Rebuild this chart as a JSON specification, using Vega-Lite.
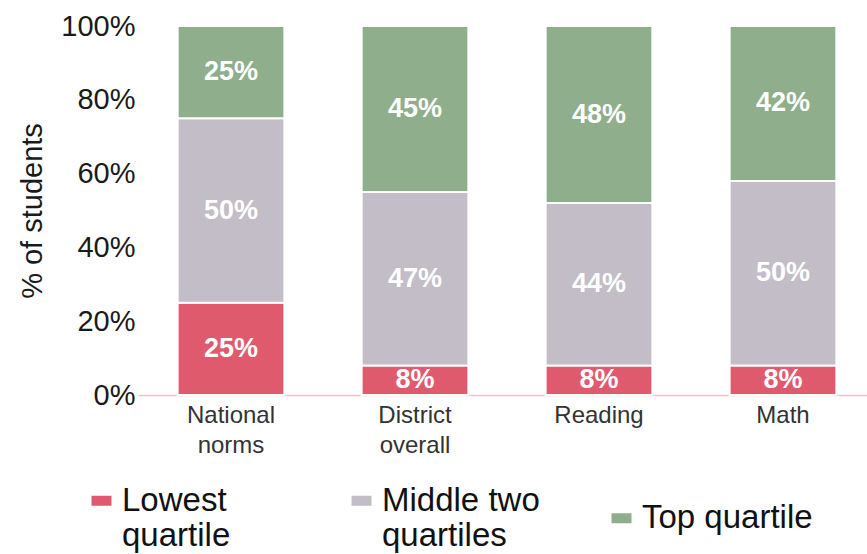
{
  "$schema": "https://vega.github.io/schema/vega-lite/v6.json",
  "autosize": "none",
  "padding": {"left": 138, "top": 26, "right": -9, "bottom": 159},
  "width": 738,
  "height": 369,
  "config": {
    "font": "Liberation Sans",
    "view": {"stroke": null}
  },
  "data": {
    "values": [
      {"cat": "National norms", "group": "Lowest quartile", "rank": 1, "pct": 25},
      {"cat": "National norms", "group": "Middle two quartiles", "rank": 2, "pct": 50},
      {"cat": "National norms", "group": "Top quartile", "rank": 3, "pct": 25},
      {"cat": "District overall", "group": "Lowest quartile", "rank": 1, "pct": 8},
      {"cat": "District overall", "group": "Middle two quartiles", "rank": 2, "pct": 47},
      {"cat": "District overall", "group": "Top quartile", "rank": 3, "pct": 45},
      {"cat": "Reading", "group": "Lowest quartile", "rank": 1, "pct": 8},
      {"cat": "Reading", "group": "Middle two quartiles", "rank": 2, "pct": 44},
      {"cat": "Reading", "group": "Top quartile", "rank": 3, "pct": 48},
      {"cat": "Math", "group": "Lowest quartile", "rank": 1, "pct": 8},
      {"cat": "Math", "group": "Middle two quartiles", "rank": 2, "pct": 50},
      {"cat": "Math", "group": "Top quartile", "rank": 3, "pct": 42}
    ]
  },
  "transform": [
    {"stack": "pct", "groupby": ["cat"], "sort": [{"field": "rank", "order": "ascending"}], "as": ["y0", "y1"]},
    {"calculate": "(datum.y0 + datum.y1) / 2", "as": "mid"},
    {"calculate": "datum.pct + '%'", "as": "label"}
  ],
  "encoding": {
    "x": {
      "field": "cat",
      "type": "nominal",
      "sort": ["National norms", "District overall", "Reading", "Math"],
      "scale": {"paddingInner": 0.42, "paddingOuter": 0.2155},
      "axis": {
        "title": null,
        "labelAngle": 0,
        "ticks": false,
        "domainColor": "#e9c3ca",
        "domainWidth": 1.5,
        "labelFontSize": 24,
        "labelColor": "#333333",
        "labelLineHeight": 30,
        "labelPadding": 8,
        "labelExpr": "split(datum.label, ' ')"
      }
    }
  },
  "layer": [
    {
      "mark": {"type": "bar", "stroke": "white", "strokeWidth": 2},
      "encoding": {
        "y": {
          "field": "y1",
          "type": "quantitative",
          "scale": {"domain": [0, 100]},
          "axis": {
            "title": "% of students",
            "titleFontSize": 29,
            "titleFontWeight": "normal",
            "titleColor": "#1a1a1a",
            "titlePadding": 13,
            "values": [0, 20, 40, 60, 80, 100],
            "labelExpr": "datum.value + '%'",
            "labelFontSize": 29,
            "labelColor": "#1a1a1a",
            "labelPadding": 3,
            "ticks": false,
            "domain": false,
            "grid": false
          }
        },
        "y2": {"field": "y0"},
        "color": {
          "field": "group",
          "type": "nominal",
          "sort": ["Lowest quartile", "Middle two quartiles", "Top quartile"],
          "scale": {
            "domain": ["Lowest quartile", "Middle two quartiles", "Top quartile"],
            "range": ["#e05a6e", "#c3bdc7", "#8fae8c"]
          },
          "legend": {
            "title": null,
            "orient": "none",
            "legendX": -53,
            "legendY": 458,
            "direction": "horizontal",
            "columns": 3,
            "gridAlign": "all",
            "columnPadding": 52,
            "symbolType": "M-1,-0.5H1V0.5H-1Z",
            "symbolSize": 400,
            "symbolStrokeWidth": 0,
            "labelFontSize": 33,
            "labelColor": "#111111",
            "labelLineHeight": 31,
            "labelOffset": 4,
            "labelLimit": 300,
            "labelExpr": "datum.label == 'Lowest quartile' ? ['Lowest', 'quartile'] : datum.label == 'Middle two quartiles' ? ['Middle two', 'quartiles'] : datum.label"
          }
        }
      }
    },
    {
      "mark": {"type": "text", "color": "white", "fontSize": 27, "fontWeight": "bold", "baseline": "middle"},
      "encoding": {
        "y": {"field": "mid", "type": "quantitative"},
        "text": {"field": "label", "type": "nominal"},
        "detail": {"field": "group"}
      }
    }
  ]
}
